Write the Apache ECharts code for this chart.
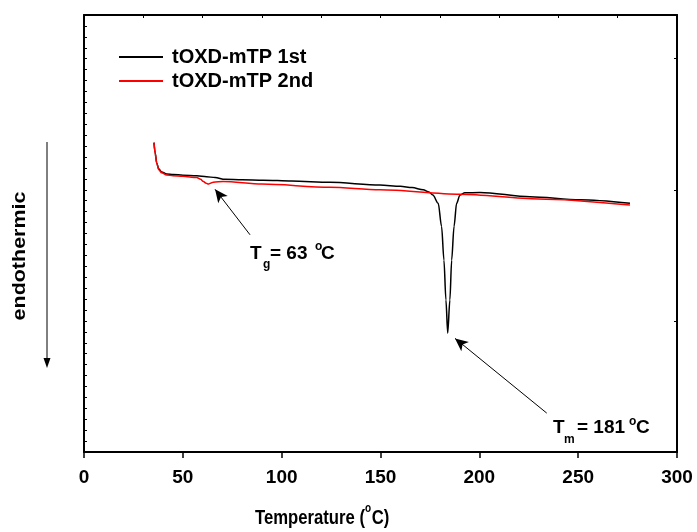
<!DOCTYPE html>
<html>
<head>
<meta charset="utf-8">
<script src="https://cdn.jsdelivr.net/npm/echarts@6/dist/echarts.min.js"></script>
<style>
  html, body { margin: 0; padding: 0; background: #fff; }
  #chart { width: 697px; height: 532px; }
</style>
</head>
<body>
<div id="chart"></div>
<script>
// DSC scans of tOXD-mTP: temperature in °C, heat flow in arbitrary units
const seriesNames = ['tOXD-mTP 1st', 'tOXD-mTP 2nd'];

const temp1st = [35.4, 36.0, 36.8, 37.8, 39.3, 41.8, 45.2, 50.0, 57.0, 62.0, 66.3, 71.3, 80.0, 90.7, 105.0, 124.4,
                 149.7, 160.0, 166.0, 171.6, 174.5, 176.5, 179.2, 180.9, 182.1, 183.1, 184.0, 185.1, 186.0, 187.2,
                 188.5, 190.2, 192.7, 200.3, 225.6, 250.9, 276.2];
const heat1st = [70.8, 68.5, 66.1, 64.8, 64.1, 63.6, 63.5, 63.35, 63.2, 63.0, 62.8, 62.4, 62.3, 62.2, 62.0, 61.7,
                 61.1, 60.8, 60.5, 60.0, 59.5, 58.8, 56.9, 51.6, 43.9, 34.8, 27.2, 34.8, 43.9, 51.6,
                 56.9, 58.8, 59.3, 59.4, 58.4, 57.7, 56.9];

const temp2nd = [35.4, 36.0, 36.8, 37.8, 39.3, 41.8, 45.0, 50.0, 57.0, 59.0, 60.4, 61.8, 62.9, 64.0, 65.4, 70.5,
                 90.0, 124.4, 149.7, 190.2, 230.0, 276.2];
const heat2nd = [70.8, 68.3, 66.1, 64.6, 63.9, 63.4, 63.2, 63.1, 62.8, 62.4, 61.9, 61.5, 61.3, 61.5, 61.75, 61.9,
                 61.3, 60.6, 60.0, 59.0, 57.9, 56.5];

const xTicks = [0, 50, 100, 150, 200, 250, 300];
const heatRange = [0, 100];

// annotation arrows: [tail, head] in data units
const tgArrow = [[84.0, 49.7], [66.3, 60.1]];
const tmArrow = [[234.1, 8.9], [187.7, 26.0]];

const FONT = "'Liberation Sans', Arial, sans-serif";
const zip = (xs, ys) => xs.map((x, i) => [x, ys[i]]);

const frameLine = { show: true, onZero: false, lineStyle: { color: '#000', width: 2 } };
const innerTick = { show: true, inside: true, length: 3, lineStyle: { color: '#000', width: 1 } };

const chart = echarts.init(document.getElementById('chart'), null, { renderer: 'canvas' });

function arrowLine(pair) {
  return [{ coord: pair[0], symbol: 'none' }, { coord: pair[1], symbol: 'arrow' }];
}

function txt(x, y, text, size) {
  return {
    type: 'text', x: x, y: y, silent: true,
    style: { text: text, fill: '#000', font: 'bold ' + size + 'px ' + FONT, textVerticalAlign: 'middle', textAlign: 'left' }
  };
}

chart.setOption({
  animation: false,
  backgroundColor: '#fff',
  grid: { left: 84, right: 20, top: 15, bottom: 80 },
  legend: {
    orient: 'vertical', left: 119, top: 47, padding: 0,
    icon: 'rect', itemWidth: 44, itemHeight: 2, itemGap: 4,
    textStyle: { fontFamily: FONT, fontWeight: 'bold', fontSize: 20, lineHeight: 20, color: '#000', padding: [0, 0, 0, 4] },
    data: seriesNames
  },
  xAxis: [{
    type: 'value', position: 'bottom',
    min: xTicks[0], max: xTicks[xTicks.length - 1], interval: xTicks[1] - xTicks[0],
    axisLine: frameLine,
    axisTick: { show: true, inside: false, length: 6, lineStyle: { color: '#000', width: 1.5 } },
    axisLabel: { color: '#000', fontFamily: FONT, fontWeight: 'bold', fontSize: 19, margin: 16 },
    splitLine: { show: false }
  }, {
    type: 'value', position: 'top',
    min: 0, max: 300, interval: 30,
    axisLine: frameLine, axisTick: innerTick,
    axisLabel: { show: false }, splitLine: { show: false }
  }],
  yAxis: [{
    type: 'value', position: 'left',
    min: heatRange[0], max: heatRange[1], interval: 2.5,
    axisLine: frameLine, axisTick: innerTick,
    axisLabel: { show: false }, splitLine: { show: false }
  }, {
    type: 'value', position: 'right',
    min: heatRange[0], max: heatRange[1], interval: 30,
    axisLine: frameLine, axisTick: innerTick,
    axisLabel: { show: false }, splitLine: { show: false }
  }],
  series: [{
    name: seriesNames[0], type: 'line', data: zip(temp1st, heat1st),
    symbol: 'none', smooth: 0.3, smoothMonotone: 'x',
    lineStyle: { color: '#000', width: 1.5 }, itemStyle: { color: '#000' }
  }, {
    name: seriesNames[1], type: 'line', data: zip(temp2nd, heat2nd),
    symbol: 'none', smooth: 0.3, smoothMonotone: 'x',
    lineStyle: { color: '#ff0000', width: 1.5 }, itemStyle: { color: '#ff0000' },
    markLine: {
      silent: true, symbolSize: [9, 13],
      lineStyle: { color: '#000', width: 1, type: 'solid' },
      label: { show: false },
      data: [arrowLine(tgArrow), arrowLine(tmArrow)]
    }
  }],
  graphic: [
    // endotherm direction marker
    { type: 'line', silent: true, shape: { x1: 47, y1: 142, x2: 47, y2: 360 }, style: { stroke: '#000', lineWidth: 1 } },
    { type: 'polygon', silent: true, shape: { points: [[43.5, 358], [50.5, 358], [47, 368]] }, style: { fill: '#000' } },
    {
      type: 'text', x: 20, y: 256, rotation: Math.PI / 2, scaleX: 1.13, silent: true,
      style: { text: 'endothermic', fill: '#000', font: 'bold 19px ' + FONT, textAlign: 'center', textVerticalAlign: 'middle' }
    },

    // x-axis title (condensed)
    {
      type: 'group', x: 255, y: 518, scaleX: 0.834, silent: true,
      children: [txt(0, 0, 'Temperature (', 20), txt(132, -9, 'o', 12), txt(140, 0, 'C)', 20)]
    },

    // glass transition label
    txt(250, 254, 'T', 19),
    txt(263, 265, 'g', 12),
    txt(270, 254, '= 63', 19),
    txt(315, 247, 'o', 12),
    txt(321, 254, 'C', 19),

    // melting point label
    txt(553, 428, 'T', 19),
    txt(564, 440, 'm', 12),
    txt(577, 428, '= 181', 19),
    txt(629, 422, 'o', 12),
    txt(636, 428, 'C', 19)
  ]
});
</script>
</body>
</html>
